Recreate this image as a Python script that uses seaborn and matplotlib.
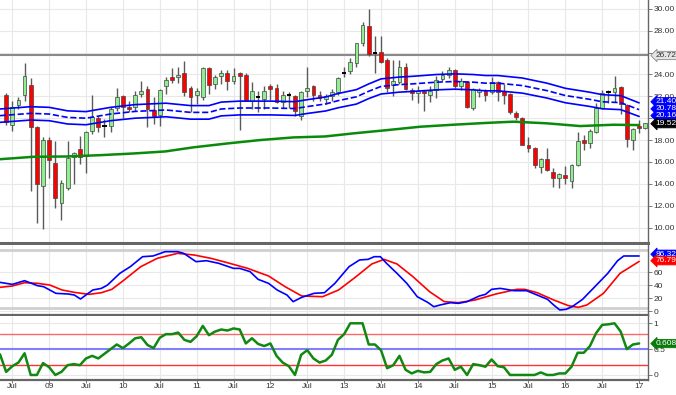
import matplotlib
matplotlib.use("Agg")
import matplotlib.pyplot as plt
import matplotlib.transforms as mtransforms
import numpy as np
import pandas as pd
import seaborn as sns

# monthly candles, Jun 2008 .. Feb 2017
months = pd.period_range("2008-06", "2017-02", freq="M")

opens = [22.16, 19.37, 21.2, 22.16, 23.07, 19.22, 13.8, 18.0, 15.88, 12.27,
         13.65, 16.47, 17.17, 16.5, 18.85, 20.0, 19.3, 19.3, 20.92, 22.0,
         21.06, 20.99, 22.22, 22.68, 20.78, 20.3, 22.98, 23.8, 23.74, 24.11,
         22.77, 22.13, 21.9, 24.6, 23.1, 23.87, 24.17, 23.44, 24.11, 23.99,
         21.6, 22.0, 21.76, 22.98, 22.77, 21.45, 22.1, 22.07, 20.23, 22.47,
         22.9, 22.16, 21.76, 22.07, 22.4, 24.1, 24.3, 25.0, 26.87, 28.4,
         25.95, 26.04, 25.34, 23.07, 23.35, 24.66, 22.58, 22.28, 22.47, 22.16,
         22.58, 23.59, 23.99, 24.36, 22.9, 23.28, 20.93, 22.4, 22.47, 22.37,
         23.28, 22.47, 22.2, 20.44, 20.0, 17.56, 17.32, 15.55, 16.25, 15.12,
         14.5, 14.81, 14.26, 15.73, 17.99, 17.75, 18.73, 20.96, 22.37, 22.37,
         22.83, 21.24, 17.99, 19.28, 19.07]
highs = [22.3, 21.6, 21.9, 25.03, 23.65, 19.3, 18.3, 18.24, 17.93, 14.33,
         17.93, 16.87, 18.4, 18.85, 22.13, 20.2, 19.9, 21.0, 22.8, 22.13,
         21.6, 22.47, 23.38, 22.9, 21.9, 22.68, 23.8, 24.6, 24.7, 25.27,
         22.9, 22.77, 24.72, 24.72, 23.99, 24.36, 24.42, 24.63, 24.2, 24.1,
         23.28, 22.52, 22.98, 23.13, 23.13, 22.47, 22.37, 22.13, 22.52, 24.72,
         23.07, 22.47, 22.2, 22.68, 23.8, 24.66, 25.5, 26.9, 28.8, 30.0,
         27.47, 27.47, 25.52, 25.34, 25.34, 25.03, 22.77, 22.98, 22.5, 22.98,
         23.9, 24.3, 24.66, 24.5, 23.68, 23.44, 22.77, 22.77, 22.68, 23.8,
         23.44, 23.13, 22.28, 20.63, 20.08, 18.3, 17.4, 16.4, 17.24, 15.48,
         15.03, 15.63, 15.8, 18.7, 18.46, 18.98, 21.42, 22.58, 22.58, 23.9,
         22.9, 21.3, 19.1, 19.83, 19.6]
lows = [19.4, 18.85, 20.85, 21.6, 13.3, 10.44, 9.83, 14.57, 11.82, 10.66,
        13.4, 14.0, 15.8, 15.03, 18.55, 18.7, 18.24, 18.7, 20.7, 20.0,
        20.54, 20.7, 21.9, 19.22, 19.47, 19.3, 22.22, 23.2, 23.26, 22.07,
        20.54, 21.3, 21.67, 22.22, 22.7, 23.13, 22.58, 23.13, 18.9, 21.54,
        20.84, 20.54, 20.85, 21.67, 21.36, 20.93, 20.93, 20.23, 19.86, 21.9,
        21.6, 21.6, 21.3, 21.6, 22.16, 23.8, 24.0, 24.72, 26.56, 25.64,
        24.11, 25.03, 22.37, 22.0, 23.13, 22.58, 21.67, 21.36, 20.69, 21.45,
        21.85, 23.44, 23.68, 22.77, 22.58, 20.93, 20.75, 21.9, 21.54, 22.22,
        21.6, 21.3, 20.38, 19.83, 17.56, 16.87, 15.48, 15.03, 15.18, 13.7,
        13.64, 13.94, 13.6, 15.64, 17.1, 17.3, 18.67, 20.8, 21.36, 21.45,
        20.38, 17.4, 17.1, 18.6, 19.0]
closes = [19.62, 21.06, 21.7, 23.9, 19.16, 13.96, 18.0, 16.22, 12.67, 14.11,
          16.4, 16.8, 16.47, 18.7, 20.08, 19.16, 19.27, 20.85, 21.9, 20.99,
          20.85, 22.16, 22.52, 20.85, 20.17, 22.58, 23.53, 23.5, 23.99, 22.37,
          21.98, 22.52, 24.57, 23.04, 23.74, 24.17, 23.44, 23.9, 23.81, 21.6,
          22.52, 21.95, 22.52, 22.68, 21.45, 22.13, 22.08, 20.69, 22.37, 22.77,
          22.16, 21.85, 22.0, 22.37, 23.68, 24.14, 25.1, 26.87, 28.49, 25.83,
          25.93, 25.12, 22.77, 23.44, 24.66, 22.68, 22.28, 22.5, 22.28, 22.52,
          23.5, 23.99, 24.36, 22.9, 23.44, 20.99, 22.68, 22.6, 22.13, 23.28,
          22.37, 22.16, 20.54, 20.08, 17.56, 17.32, 15.73, 16.25, 15.24, 14.5,
          14.87, 14.5, 15.7, 17.93, 17.75, 18.82, 20.96, 22.34, 22.4, 22.77,
          21.3, 18.09, 19.0, 19.07, 19.52]

# envelope (month position, value)
band_idx = [-1, 4, 7, 10, 13, 17, 21, 26, 30, 33, 35, 38, 43, 47, 49, 52, 54,
            57, 59, 61, 64, 66, 70, 73, 76, 78, 80, 84, 88, 91, 95, 97, 100, 103]
band_mid = [20.23, 20.44, 20.38, 20.07, 20.0, 20.38, 20.62, 20.75, 20.53, 20.53,
            20.84, 20.93, 20.93, 20.88, 21.06, 21.3, 21.6, 21.95, 22.46, 22.9,
            23.07, 23.13, 23.29, 23.35, 23.29, 23.2, 23.2, 22.98, 22.52, 22.07,
            21.72, 21.5, 21.42, 20.78]
band_upper = [20.84, 21.05, 20.99, 20.67, 20.6, 20.99, 21.24, 21.37, 21.15, 21.15,
              21.47, 21.56, 21.56, 21.51, 21.69, 21.94, 22.25, 22.61, 23.13, 23.59,
              23.76, 23.82, 23.99, 24.05, 23.99, 23.9, 23.9, 23.67, 23.2, 22.73,
              22.37, 22.15, 22.06, 21.40]
band_lower = [19.62, 19.83, 19.77, 19.47, 19.4, 19.77, 20.0, 20.13, 19.91, 19.91,
              20.21, 20.3, 20.3, 20.25, 20.43, 20.66, 20.95, 21.29, 21.79, 22.21,
              22.38, 22.44, 22.59, 22.65, 22.59, 22.5, 22.5, 22.29, 21.84, 21.41,
              21.07, 20.86, 20.78, 20.16]

ma_idx = [-1, 4.4, 9.9, 15.3, 20.6, 25.9, 30.4, 36.0, 41.3, 46.7, 51.9,
          56.5, 62.0, 67.4, 72.7, 77.9, 82.5, 88.0, 93.4, 98.8, 103]
ma_val = [16.25, 16.47, 16.5, 16.62, 16.77, 16.96, 17.33, 17.69, 18.0, 18.24, 18.33,
          18.61, 18.91, 19.22, 19.4, 19.56, 19.68, 19.53, 19.28, 19.4, 19.37]

# stochastic
k_idx = [-1, 1.0, 3.0, 5.1, 6.1, 8.1, 10.1, 11.1, 12.1, 14.1, 15.5, 16.5, 18.5,
         20.2, 22.2, 23.9, 25.9, 27.9, 28.9, 30.9, 32.6, 34.6, 37.0, 38.0, 39.7,
         41.0, 42.7, 44.1, 45.7, 46.7, 48.1, 50.1, 51.8, 53.5, 55.8, 57.5, 58.9,
         59.9, 60.9, 61.9, 63.6, 65.2, 66.9, 68.6, 69.6, 70.6, 72.3, 73.6, 75.0,
         77.0, 78.0, 79.0, 80.4, 82.7, 84.7, 86.4, 88.1, 89.1, 90.1, 91.1, 92.1,
         93.8, 95.8, 97.9, 99.5, 100.5, 103]
k_val = [44.4, 41.3, 47.0, 39.3, 37.7, 27.4, 26.4, 24.8, 18.6, 32.6, 35.1, 40.3, 58.4,
         68.7, 84.2, 85.3, 92.0, 92.0, 89.4, 76.5, 78.0, 73.9, 66.1, 66.1, 61.0,
         49.1, 42.9, 32.6, 24.8, 14.5, 21.2, 27.4, 28.4, 42.9, 68.7, 79.1, 80.1,
         84.2, 84.2, 73.9, 58.4, 42.9, 22.2, 13.4, 6.7, 9.3, 12.9, 11.9, 14.5,
         23.3, 25.8, 33.6, 35.1, 31.5, 31.5, 24.8, 18.1, 9.3, 1.6, 2.6, 6.7,
         18.1, 37.7, 58.4, 78.0, 85.3, 85.3]
d_idx = [-1, 1.0, 3.0, 5.1, 7.1, 9.1, 11.1, 13.5, 15.5, 17.2, 19.2, 21.9, 24.6,
         27.9, 30.6, 33.3, 36.0, 39.3, 42.7, 45.4, 48.1, 51.5, 54.1, 56.8, 59.5,
         61.5, 63.6, 66.2, 68.9, 71.3, 73.6, 76.3, 79.7, 83.1, 84.4, 86.4, 89.1,
         91.5, 93.1, 94.5, 97.2, 99.9, 103]
d_val = [36.7, 38.8, 43.9, 42.9, 40.3, 32.6, 28.9, 25.8, 28.4, 33.6, 48.1, 68.7, 81.7,
         89.4, 86.8, 81.7, 74.9, 66.1, 54.3, 37.7, 23.3, 22.2, 32.6, 52.2, 72.9,
         80.1, 72.9, 53.2, 30.0, 14.5, 12.9, 17.1, 26.4, 33.6, 33.6, 28.4, 17.1,
         8.3, 5.7, 9.3, 27.4, 58.4, 76.8]

# oscillator, one value per month from May 2008 to Jan 2017
osc_val = [0.4, 0.06, 0.17, 0.24, 0.42, 0.0, 0.0, 0.23, 0.15, 0.0,
           0.06, 0.19, 0.21, 0.19, 0.32, 0.37, 0.32, 0.41, 0.50, 0.59,
           0.52, 0.61, 0.71, 0.73, 0.58, 0.52, 0.72, 0.79, 0.79, 0.82,
           0.68, 0.64, 0.75, 0.95, 0.77, 0.84, 0.88, 0.86, 0.90, 0.88,
           0.61, 0.71, 0.60, 0.56, 0.61, 0.37, 0.24, 0.17, 0.0, 0.39,
           0.48, 0.32, 0.24, 0.28, 0.39, 0.68, 0.79, 1.0, 1.0, 1.0,
           0.59, 0.59, 0.48, 0.13, 0.19, 0.37, 0.10, 0.03, 0.08, 0.05,
           0.06, 0.21, 0.28, 0.32, 0.10, 0.16, 0.0, 0.21, 0.19, 0.16,
           0.30, 0.17, 0.15, 0.0, 0.0, 0.0, 0.0, 0.0, 0.05, 0.0,
           0.0, 0.03, 0.03, 0.16, 0.43, 0.43, 0.56, 0.81, 0.97, 0.98,
           1.0, 0.84, 0.50, 0.59, 0.61]

tick_idx = [1, 7, 13, 19, 25, 31, 37, 43, 49, 55, 61, 67, 73, 79, 85, 91, 97, 103]
tick_labels = ["Jul", "09", "Jul", "10", "Jul", "11", "Jul", "12", "Jul",
               "13", "Jul", "14", "Jul", "15", "Jul", "16", "Jul", "17"]

GRID = "#e8e8e8"
EDGE = "#666666"
FS = 6.0


def etiqueta(ax, y, texto, fundo, cor_texto="white", borda=None):
    trans = mtransforms.blended_transform_factory(ax.transAxes, ax.transData)
    ax.text(1.011, y, texto, transform=trans, fontsize=FS, color=cor_texto,
            va="center", ha="left", clip_on=False, zorder=20,
            bbox=dict(boxstyle="larrow,pad=0.08", fc=fundo, ec=borda or fundo, lw=0.6))


def estilo(ax):
    ax.set_facecolor("white")
    ax.grid(True, color=GRID, lw=0.8)
    ax.set_axisbelow(True)
    for s in ["left", "top"]:
        ax.spines[s].set_visible(False)
    ax.spines["right"].set_color(EDGE)
    ax.spines["right"].set_linewidth(1.0)
    ax.spines["bottom"].set_color(EDGE)
    ax.spines["bottom"].set_linewidth(1.6)
    ax.yaxis.tick_right()
    ax.tick_params(axis="y", labelsize=FS, length=3, width=0.6, color=EDGE,
                   pad=1, labelcolor="#333333", right=True, left=False)
    ax.set_xlabel("")
    ax.set_ylabel("")


def gerar_grafico():
    sns.set_theme(style="white")
    plt.rcParams["font.family"] = ["Liberation Sans Narrow", "Liberation Sans", "DejaVu Sans"]

    fig = plt.figure(figsize=(6.76, 3.95), dpi=100)
    ax1 = fig.add_axes([0, 0.385, 0.9586, 0.615])
    ax2 = fig.add_axes([0, 0.2025, 0.9586, 0.1772], sharex=ax1)
    ax3 = fig.add_axes([0, 0.038, 0.9586, 0.162], sharex=ax1)

    x = np.arange(len(months))
    o = np.array(opens)
    c = np.array(closes)

    # ── candles ──────────────────────────────────────────────────────────
    ax1.vlines(x, lows, highs, color="#5a5a5a", lw=1.0, zorder=2)
    corpo = np.abs(c - o)
    doji = corpo < 0.08
    cores = np.where(c >= o, "#90ee90", "#ff0000")
    ax1.bar(x[~doji], corpo[~doji], bottom=np.minimum(o, c)[~doji], width=0.62,
            color=cores[~doji], edgecolor="#444444", linewidth=0.5, zorder=3)
    ax1.hlines(c[doji], x[doji] - 0.35, x[doji] + 0.35, color="black", lw=1.4, zorder=3)

    # ── indicators on price ──────────────────────────────────────────────
    sns.lineplot(x=band_idx, y=band_upper, ax=ax1, color="#0000ff", lw=1.2, zorder=4)
    sns.lineplot(x=band_idx, y=band_mid, ax=ax1, color="#0000ff", lw=1.2,
                 linestyle="--", dashes=(3, 2), zorder=4)
    sns.lineplot(x=band_idx, y=band_lower, ax=ax1, color="#0000ff", lw=1.2, zorder=4)
    sns.lineplot(x=ma_idx, y=ma_val, ax=ax1, color="#0a8a0a", lw=1.8, zorder=4)
    ax1.axhline(25.73, color="#8a8a8a", lw=1.5, zorder=1)

    estilo(ax1)
    ax1.spines["bottom"].set_linewidth(2.2)
    ax1.set_ylim(8.6, 30.8)
    niveis = np.arange(10, 31, 2)
    ax1.set_yticks(niveis)
    # 20.00 and 26.00 sit under the value boxes
    ax1.set_yticklabels(["" if v in (20, 26) else f"{v:.2f}" for v in niveis])
    ax1.tick_params(axis="x", labelbottom=False, length=0)
    etiqueta(ax1, 25.73, "26.72", "#e4e4e4", cor_texto="#333333", borda="#888888")
    etiqueta(ax1, 21.5, "21.40", "#0000ff")
    etiqueta(ax1, 20.85, "20.78", "#0000ff")
    etiqueta(ax1, 20.23, "20.16", "#0000ff")
    etiqueta(ax1, 19.5, "19.52", "#000000")

    # ── stochastic ───────────────────────────────────────────────────────
    ax2.axhline(95, color="#cfcfcf", lw=2, zorder=1)
    ax2.axhline(5, color="#cfcfcf", lw=2, zorder=1)
    sns.lineplot(x=d_idx, y=d_val, ax=ax2, color="#ff0000", lw=1.2, zorder=3)
    sns.lineplot(x=k_idx, y=k_val, ax=ax2, color="#0000ff", lw=1.2, zorder=4)
    estilo(ax2)
    ax2.set_ylim(-6.2, 102.3)
    ax2.set_yticks([0, 20, 40, 60])
    ax2.set_yticklabels(["0", "20", "40", "60"])
    ax2.tick_params(axis="x", labelbottom=False, length=0)
    etiqueta(ax2, 88, "86.32", "#0000ff")
    etiqueta(ax2, 78, "76.79", "#ff0000")

    # ── oscillator ───────────────────────────────────────────────────────
    ax3.axhline(0.8, color="#ff6666", lw=1.0, zorder=1)
    ax3.axhline(0.5, color="#8080ff", lw=1.5, zorder=1)
    ax3.axhline(0.2, color="#ff3333", lw=1.0, zorder=1)
    sns.lineplot(x=np.arange(-1, len(osc_val) - 1), y=osc_val, ax=ax3,
                 color="#118811", lw=1.8, zorder=3)
    estilo(ax3)
    ax3.set_ylim(-0.097, 1.141)
    ax3.set_yticks([0, 0.5, 1])
    ax3.set_yticklabels(["0", "0.5", "1"])
    etiqueta(ax3, 0.608, "0.608", "#0a7a0a")

    ax3.set_xticks(tick_idx)
    ax3.set_xticklabels(tick_labels)
    ax3.tick_params(axis="x", labelsize=FS, length=2, width=0.6, color=EDGE,
                    pad=0.5, labelcolor="#333333", bottom=True)
    ax3.set_xlim(-1.0, 104.45)

    fig.savefig("out.png", dpi=100)
    plt.close(fig)


if __name__ == "__main__":
    gerar_grafico()
